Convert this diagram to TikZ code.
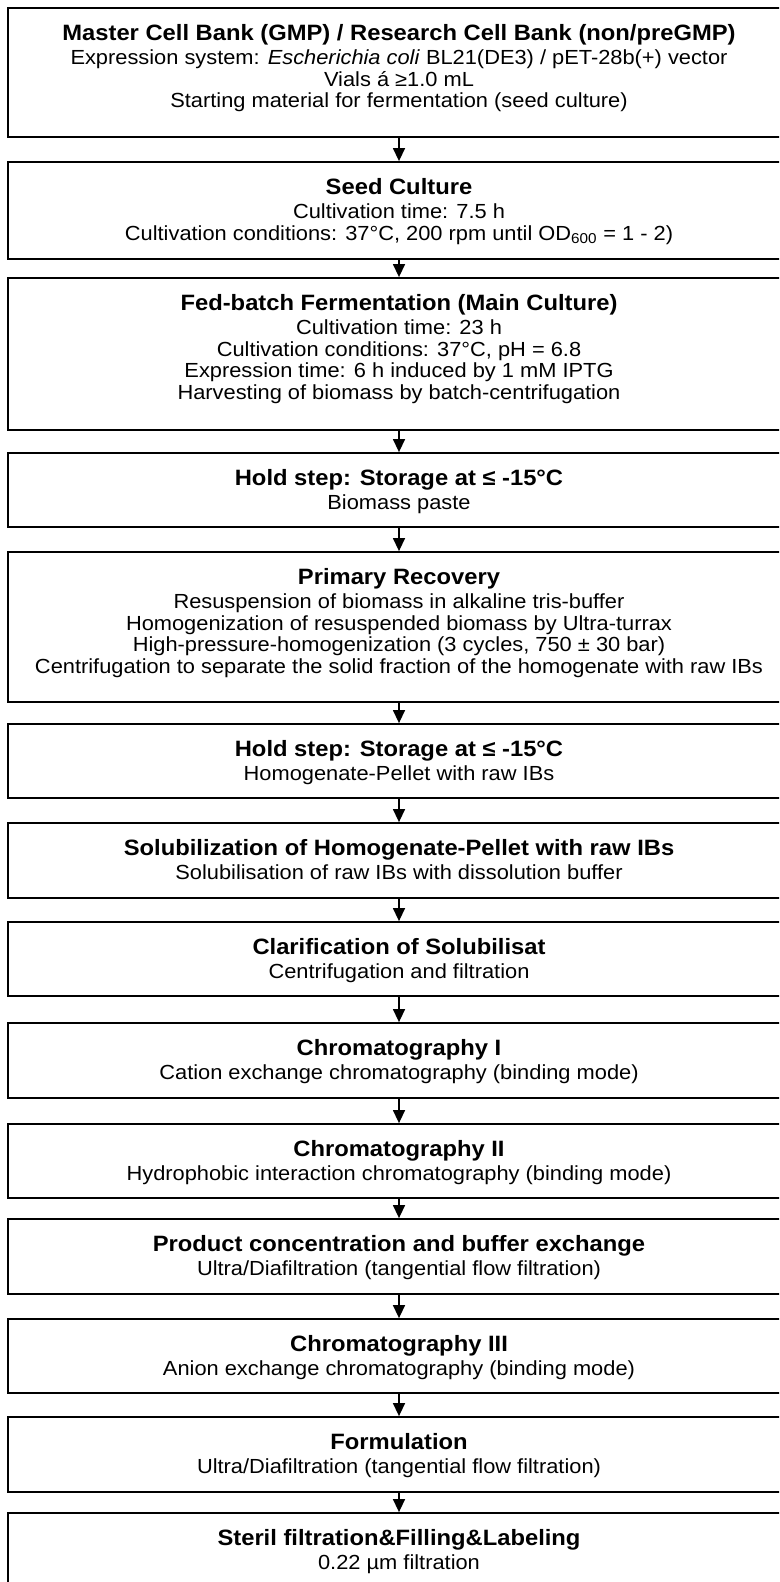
\documentclass[tikz,border=0pt]{standalone}
\usepackage{fontspec}
\setmainfont{Liberation Sans}[FakeStretch=1.07]
\usetikzlibrary{arrows.meta}
\tikzset{
  stepbox/.style={draw=black, line width=1.8pt, rectangle, minimum width=782pt, inner sep=0pt, fill=white},
  steptext/.style={anchor=north, inner sep=0pt, align=center, font=\fontsize{20.4}{21.6}\selectfont},
  flowarrow/.style={draw=black, line width=1.4pt, -{Triangle[width=12pt,length=13pt]}}
}
\newcommand{\ttl}[1]{{\fontsize{22.2}{21.6}\selectfont\bfseries\rule{0pt}{17pt}#1}\\[2.5pt]}
\begin{document}
\begin{tikzpicture}[x=1pt,y=1pt]
\useasboundingbox (0,0) rectangle (779,-1582);
\fill[white] (0,0) rectangle (779,-1582);
\clip (0,0) rectangle (779,-1582);
% boxes: center y = -(top+bottom)/2, height = bottom-top
\node[stepbox, minimum height=129pt] (b1) at (399,-72.5) {};
\node[stepbox, minimum height=97pt] (b2) at (399,-210.5) {};
\node[stepbox, minimum height=152pt] (b3) at (399,-354) {};
\node[stepbox, minimum height=74pt] (b4) at (399,-490) {};
\node[stepbox, minimum height=150pt] (b5) at (399,-627) {};
\node[stepbox, minimum height=74pt] (b6) at (399,-761) {};
\node[stepbox, minimum height=75pt] (b7) at (399,-860.5) {};
\node[stepbox, minimum height=74pt] (b8) at (399,-959) {};
\node[stepbox, minimum height=75pt] (b9) at (399,-1060.5) {};
\node[stepbox, minimum height=74pt] (b10) at (399,-1161) {};
\node[stepbox, minimum height=75pt] (b11) at (399,-1256.5) {};
\node[stepbox, minimum height=74pt] (b12) at (399,-1356) {};
\node[stepbox, minimum height=75pt] (b13) at (399,-1454.5) {};
\node[stepbox, minimum height=110pt] (b14) at (399,-1568) {};
% texts
\node[steptext] (t1) at ([yshift=-16pt]b1.north) {\ttl{Master Cell Bank (GMP) / Research Cell Bank (non/preGMP)}
Expression system: \textit{Escherichia coli} BL21(DE3) / pET-28b(+) vector\\
Vials á ≥1.0 mL\\
Starting material for fermentation (seed culture)};
\node[steptext] (t2) at ([yshift=-16pt]b2.north) {\ttl{Seed Culture}
Cultivation time: 7.5 h\\
Cultivation conditions: 37°C, 200 rpm until OD\textsubscript{600} = 1 - 2)};
\node[steptext] (t3) at ([yshift=-16pt]b3.north) {\ttl{Fed-batch Fermentation (Main Culture)}
Cultivation time: 23 h\\
Cultivation conditions: 37°C, pH = 6.8\\
Expression time: 6 h induced by 1 mM IPTG\\
Harvesting of biomass by batch-centrifugation};
\node[steptext] (t4) at ([yshift=-16pt]b4.north) {\ttl{Hold step: Storage at ≤ -15°C}
Biomass paste};
\node[steptext] (t5) at ([yshift=-16pt]b5.north) {\ttl{Primary Recovery}
Resuspension of biomass in alkaline tris-buffer\\
Homogenization of resuspended biomass by Ultra-turrax\\
High-pressure-homogenization (3 cycles, 750 ± 30 bar)\\
Centrifugation to separate the solid fraction of the homogenate with raw IBs};
\node[steptext] (t6) at ([yshift=-16pt]b6.north) {\ttl{Hold step: Storage at ≤ -15°C}
Homogenate-Pellet with raw IBs};
\node[steptext] (t7) at ([yshift=-16pt]b7.north) {\ttl{Solubilization of Homogenate-Pellet with raw IBs}
Solubilisation of raw IBs with dissolution buffer};
\node[steptext] (t8) at ([yshift=-16pt]b8.north) {\ttl{Clarification of Solubilisat}
Centrifugation and filtration};
\node[steptext] (t9) at ([yshift=-16pt]b9.north) {\ttl{Chromatography I}
Cation exchange chromatography (binding mode)};
\node[steptext] (t10) at ([yshift=-16pt]b10.north) {\ttl{Chromatography II}
Hydrophobic interaction chromatography (binding mode)};
\node[steptext] (t11) at ([yshift=-16pt]b11.north) {\ttl{Product concentration and buffer exchange}
Ultra/Diafiltration (tangential flow filtration)};
\node[steptext] (t12) at ([yshift=-16pt]b12.north) {\ttl{Chromatography III}
Anion exchange chromatography (binding mode)};
\node[steptext] (t13) at ([yshift=-16pt]b13.north) {\ttl{Formulation}
Ultra/Diafiltration (tangential flow filtration)};
\node[steptext] (t14) at ([yshift=-16pt]b14.north) {\ttl{Steril filtration\&Filling\&Labeling}
0.22 µm filtration};
% arrows
\foreach \a/\b in {b1/b2,b2/b3,b3/b4,b4/b5,b5/b6,b6/b7,b7/b8,b8/b9,b9/b10,b10/b11,b11/b12,b12/b13,b13/b14}
  \draw[flowarrow] (\a.south) -- (\b.north);
\end{tikzpicture}
\end{document}
